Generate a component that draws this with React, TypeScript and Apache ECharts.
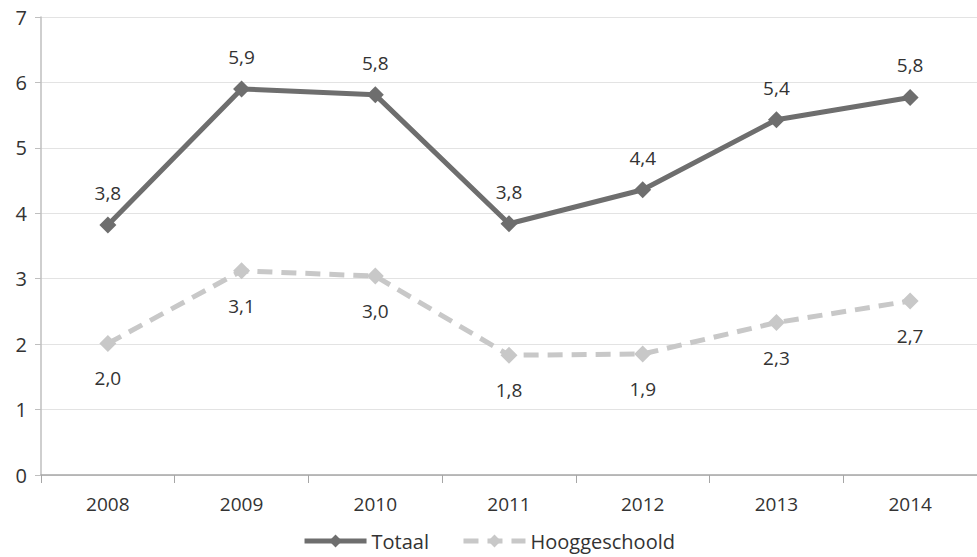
import React, { useEffect, useRef } from "react";
import * as echarts from "echarts";

const years = ["2008", "2009", "2010", "2011", "2012", "2013", "2014"];
const totaal = [3.82, 5.9, 5.81, 3.84, 4.36, 5.43, 5.77];
const hooggeschoold = [2.01, 3.12, 3.04, 1.83, 1.85, 2.33, 2.66];
const yTicks = [0, 1, 2, 3, 4, 5, 6, 7];

const FONT = "Open Sans";
const fmt = (v: number) => v.toFixed(1).replace(".", ",");

export default function App() {
  const ref = useRef<HTMLDivElement>(null);
  useEffect(() => {
    if (!ref.current) return;
    const chart = echarts.init(ref.current, undefined, { renderer: "svg" });
    chart.setOption({
      animation: false,
      backgroundColor: "#ffffff",
      textStyle: { fontFamily: FONT },
      grid: { left: 41, right: 0, top: 17, bottom: 82, containLabel: false },
      legend: {
        bottom: 1,
        left: "center",
        itemWidth: 62,
        itemHeight: 16,
        itemGap: 32,
        lineStyle: { width: 5 },
        textStyle: { fontFamily: FONT, fontSize: 20, color: "#333333" },
        data: ["Totaal", "Hooggeschoold"],
      },
      xAxis: {
        type: "category",
        data: years,
        boundaryGap: true,
        axisLine: { lineStyle: { color: "#a6a6a6", width: 1.5 } },
        axisTick: { show: true, length: 8, lineStyle: { color: "#a6a6a6" } },
        axisLabel: { fontFamily: FONT, fontSize: 19, color: "#333333", margin: 19 },
      },
      yAxis: {
        type: "value",
        min: yTicks[0],
        max: yTicks[yTicks.length - 1],
        interval: 1,
        axisLine: { show: true, lineStyle: { color: "#bfbfbf", width: 1.5 } },
        axisTick: { show: true, length: 6, lineStyle: { color: "#bfbfbf" } },
        splitLine: { lineStyle: { color: "#e3e3e3", width: 1 } },
        axisLabel: { fontFamily: FONT, fontSize: 20, color: "#333333", margin: 14 },
      },
      series: [
        {
          name: "Totaal",
          type: "line",
          data: totaal,
          symbol: "diamond",
          symbolSize: 17,
          itemStyle: { color: "#6e6e6e" },
          lineStyle: { color: "#6e6e6e", width: 5 },
          label: {
            show: true,
            position: "top",
            distance: 14,
            fontFamily: FONT,
            fontSize: 19,
            color: "#333333",
            formatter: (p: any) => fmt(p.value),
          },
        },
        {
          name: "Hooggeschoold",
          type: "line",
          data: hooggeschoold,
          symbol: "diamond",
          symbolSize: 17,
          itemStyle: { color: "#c8c8c8" },
          lineStyle: { color: "#c8c8c8", width: 5, type: [15, 9] },
          label: {
            show: true,
            position: "bottom",
            distance: 17,
            fontFamily: FONT,
            fontSize: 19,
            color: "#333333",
            formatter: (p: any) => fmt(p.value),
          },
        },
      ],
    });
    return () => chart.dispose();
  }, []);
  return (
    <div
      ref={ref}
      style={{ position: "fixed", left: 0, top: 0, width: 977, height: 557 }}
    />
  );
}
